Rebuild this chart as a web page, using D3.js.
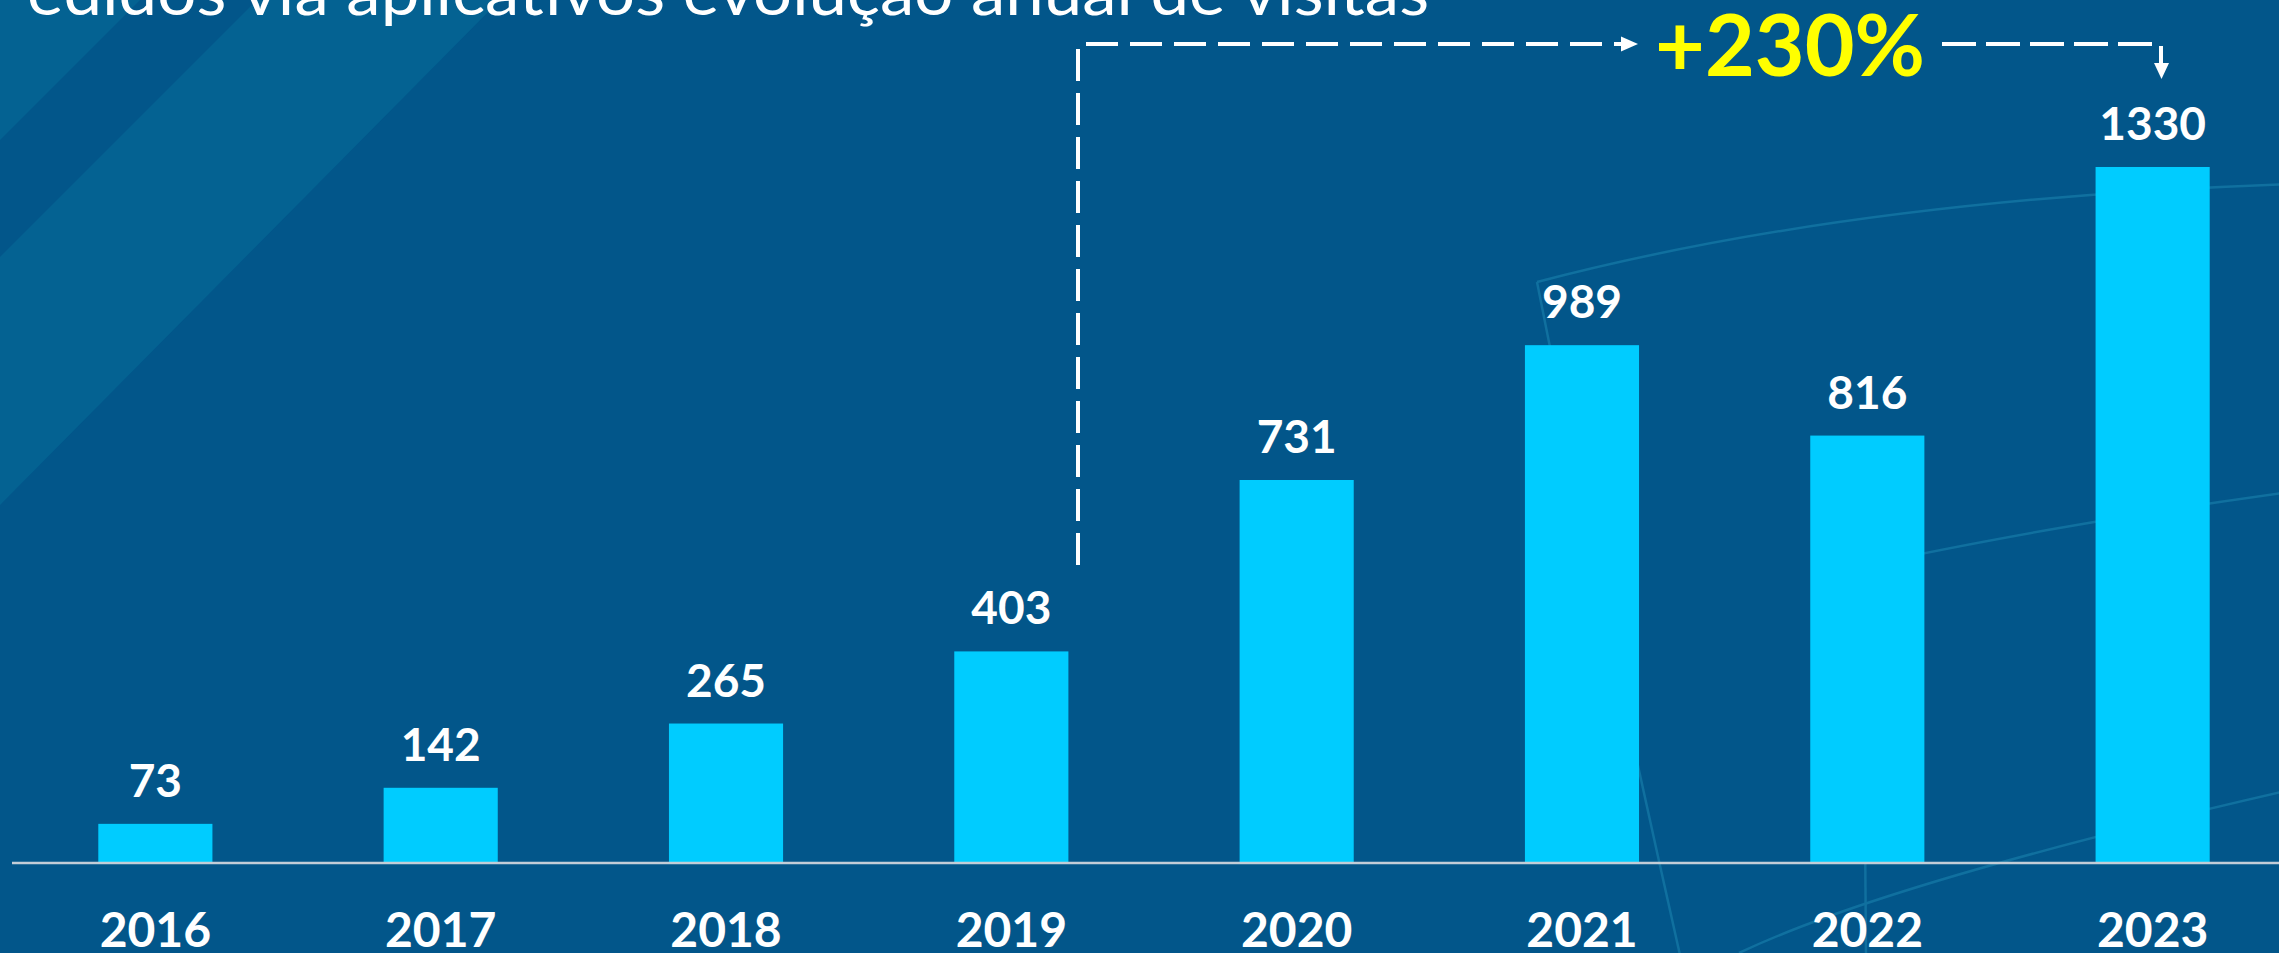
<!DOCTYPE html>
<html>
<head>
<meta charset="utf-8">
<script src="https://cdn.jsdelivr.net/npm/d3@7"></script>
<style>
  html, body { margin: 0; padding: 0; background: #02568a; }
  svg { display: block; }
</style>
</head>
<body>
<svg id="chart" width="2279" height="953"></svg>
<script>
// Annual app-order visits
const years = ["2016", "2017", "2018", "2019", "2020", "2021", "2022", "2023"];
const visits = [73, 142, 265, 403, 731, 989, 816, 1330];
const titleText = "edidos via aplicativos evolução anual de visitas";
const growthText = "+230%";

const W = 2279, H = 953;
const svg = d3.select("#chart");

// background with diagonal light bands in the top-left corner
svg.append("rect").attr("width", W).attr("height", H).attr("fill", "#02568a");
const bandFill = "#046292";
svg.append("path").attr("d", "M0,0 L140,0 L0,140 Z").attr("fill", bandFill);
svg.append("path").attr("d", "M257,0 L500,0 L0,505 L0,257 Z").attr("fill", bandFill);

// faint globe grid lines on the right
const globe = svg.append("g")
  .attr("fill", "none")
  .attr("stroke", "#10709f")
  .attr("stroke-width", 2.5);
globe.append("path").attr("d", "M1537,282 C1750,226 2000,194 2290,184");
globe.append("path").attr("d", "M1537,282 Q1600,600 1680,955");
globe.append("path").attr("d", "M1863,566 C1960,545 2120,515 2290,492");
globe.append("path").attr("d", "M1863,566 L1866,955");
globe.append("path").attr("d", "M1739,953 C1850,900 2050,845 2290,790");

// scales
const x = d3.scaleBand().domain(years).range([12.7, 2295.3]).paddingInner(0.6).paddingOuter(0.3);
const y = d3.scaleLinear().domain([0, 1400]).range([862, 130.4]);

const rows = years.map((yr, i) => ({ yr, v: visits[i] }));

// bars
svg.append("g").selectAll("rect")
  .data(rows)
  .join("rect")
  .attr("x", d => x(d.yr))
  .attr("y", d => y(d.v))
  .attr("width", x.bandwidth())
  .attr("height", d => y(0) - y(d.v))
  .attr("fill", "#00ccff");

// baseline
svg.append("line")
  .attr("x1", 12).attr("x2", W)
  .attr("y1", y(0) + 1).attr("y2", y(0) + 1)
  .attr("stroke", "#c3cdd7").attr("stroke-width", 2.5);

// value labels
svg.append("g").selectAll("text")
  .data(rows)
  .join("text")
  .attr("x", d => x(d.yr) + x.bandwidth() / 2)
  .attr("y", d => y(d.v) - 27)
  .attr("text-anchor", "middle")
  .attr("font-family", "Lato, 'Open Sans', sans-serif")
  .attr("font-weight", 700)
  .attr("font-size", 46)
  .attr("fill", "#ffffff")
  .text(d => d.v);

// year axis labels
const xAxis = d3.axisBottom(x).tickSize(0).tickPadding(0);
const axisG = svg.append("g").attr("transform", `translate(0, ${y(0)})`).call(xAxis);
axisG.select(".domain").remove();
axisG.selectAll("text")
  .attr("y", 85)
  .attr("dy", 0)
  .attr("font-family", "Lato, 'Open Sans', sans-serif")
  .attr("font-weight", 700)
  .attr("font-size", 48)
  .attr("fill", "#ffffff");

// title
svg.append("text")
  .attr("x", 27).attr("y", 15)
  .attr("font-family", "Lato, 'Open Sans', sans-serif")
  .attr("font-weight", 400)
  .attr("font-size", 64)
  .attr("fill", "#ffffff")
  .attr("textLength", 1402)
  .attr("lengthAdjust", "spacingAndGlyphs")
  .text(titleText);

// growth annotation: dashed elbow from 2019 up and across to 2023
const dash = "32,12";
const ann = svg.append("g").attr("stroke", "#ffffff").attr("stroke-width", 4).attr("fill", "none");
ann.append("line").attr("x1", 1078).attr("y1", 565).attr("x2", 1078).attr("y2", 49).attr("stroke-dasharray", dash);
ann.append("line").attr("x1", 1086).attr("y1", 44).attr("x2", 1623).attr("y2", 44).attr("stroke-dasharray", dash);
ann.append("line").attr("x1", 1942).attr("y1", 44).attr("x2", 2161).attr("y2", 44).attr("stroke-dasharray", "34,10");
ann.append("line").attr("x1", 2161).attr("y1", 46).attr("x2", 2161).attr("y2", 64);
svg.append("path").attr("d", "M1638,44 L1621,36.5 L1621,51.5 Z").attr("fill", "#ffffff");
svg.append("path").attr("d", "M2161.5,79 L2154,63 L2169,63 Z").attr("fill", "#ffffff");

svg.append("text")
  .attr("x", 1790).attr("y", 76)
  .attr("text-anchor", "middle")
  .attr("font-family", "Lato, 'Open Sans', sans-serif")
  .attr("font-weight", 700)
  .attr("font-size", 86)
  .attr("fill", "#ffff00")
  .text(growthText);
</script>
</body>
</html>
